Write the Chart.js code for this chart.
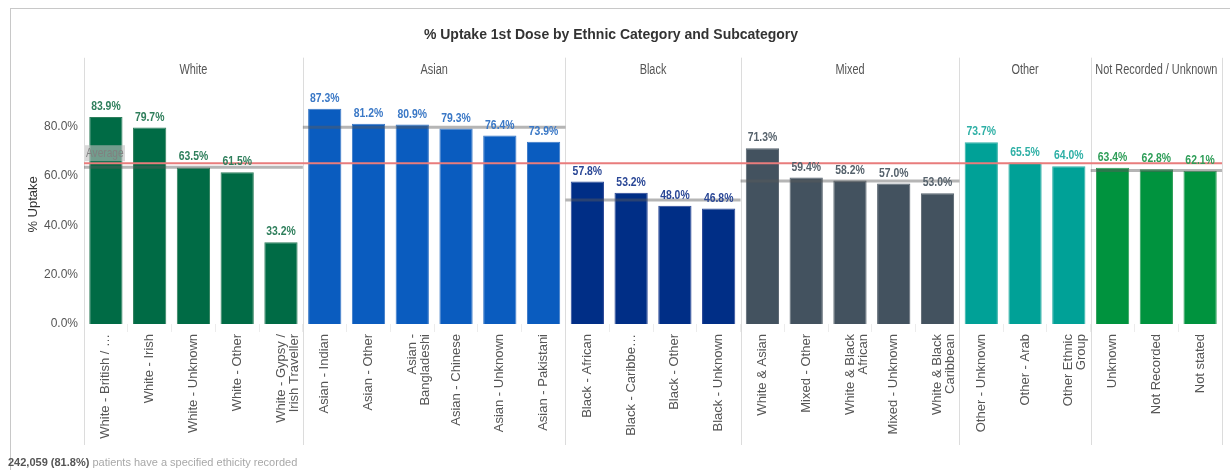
<!DOCTYPE html>
<html>
<head>
<meta charset="utf-8">
<script src="https://cdn.jsdelivr.net/npm/chart.js@4.4.1/dist/chart.umd.min.js"></script>
<style>
  html, body { margin: 0; padding: 0; background: #fff; }
  #wrap { position: relative; width: 1230px; height: 470px; overflow: hidden; }
  #frame { position: absolute; left: 10px; top: 8px; width: 1240px; height: 480px;
           border-top: 1px solid #c8c8c8; border-left: 1px solid #c8c8c8; }
  #chart { position: absolute; left: 0; top: 0; }
  #foot { position: absolute; left: 8px; top: 456px; color: #a8a8a8;
          font: 11px "Liberation Sans", Arial, sans-serif; }
  #foot b { color: #555; }
</style>
</head>
<body>
<div id="wrap">
  <div id="frame"></div>
  <canvas id="chart" width="1230" height="470"></canvas>
  <div id="foot"><b>242,059 (81.8%)</b> patients have a specified ethicity recorded</div>
</div>
<script>
const SANS = '"Liberation Sans", Arial, sans-serif';

// grupos (paneles de arriba)
const groups = ['White', 'Asian', 'Black', 'Mixed', 'Other', 'Not Recorded / Unknown'];
const groupSizes = [5, 6, 4, 5, 3, 3];
const groupAverages = [63.6, 79.8, 50.3, 58.0, null, 62.2];
const overallAverage = 65.2;

// subcategorias y % de captacion
const subcategories = [
    'White - British / …', 'White - Irish', 'White - Unknown', 'White - Other', ['White - Gypsy /', 'Irish Traveller'],
    'Asian - Indian', 'Asian - Other', ['Asian -', 'Bangladeshi'], 'Asian - Chinese', 'Asian - Unknown', 'Asian - Pakistani',
    'Black - African', 'Black - Caribbe…', 'Black - Other', 'Black - Unknown',
    'White & Asian', 'Mixed - Other', ['White & Black', 'African'], 'Mixed - Unknown', ['White & Black', 'Caribbean'],
    'Other - Unknown', 'Other - Arab', ['Other Ethnic', 'Group'],
    'Unknown', 'Not Recorded', 'Not stated'
];
const uptake = [
    83.9, 79.7, 63.5, 61.5, 33.2,
    87.3, 81.2, 80.9, 79.3, 76.4, 73.9,
    57.8, 53.2, 48.0, 46.8,
    71.3, 59.4, 58.2, 57.0, 53.0,
    73.7, 65.5, 64.0,
    63.4, 62.8, 62.1
];
const yTicks = [0, 20, 40, 60, 80];

const barColours = ['#006b45', '#0a5cbf', '#002e86', '#43525f', '#00a197', '#00933e'];
const labelColours = ['#2f7f5c', '#3a78c6', '#2a4796', '#56626c', '#2fb0a6', '#2e9e58'];

/* grupo de cada barra */
const groupOf = [];
groupSizes.forEach((n, gi) => { for (let i = 0; i < n; i++) groupOf.push(gi); });

/* texto estrechado (no hay fuente narrow instalada) */
function narrowText(ctx, text, x, y, sx) {
    ctx.save();
    ctx.translate(x, y);
    ctx.scale(sx, 1);
    ctx.fillText(text, 0, 0);
    ctx.restore();
}

const panelPlugin = {
    id: 'panels',
    beforeDatasetsDraw(chart) {
        const ctx = chart.ctx, x = chart.scales.x, area = chart.chartArea;
        const half = (x.getPixelForValue(1) - x.getPixelForValue(0)) / 2;
        let start = 0;
        ctx.save();
        groups.forEach((g, gi) => {
            const left = x.getPixelForValue(start) - half;
            const right = x.getPixelForValue(start + groupSizes[gi] - 1) + half;
            ctx.strokeStyle = '#dcdcdc';
            ctx.lineWidth = 1;
            ctx.beginPath();
            ctx.moveTo(Math.round(left) + 0.5, area.top - 27);
            ctx.lineTo(Math.round(left) + 0.5, 445);
            ctx.moveTo(Math.round(right) + 0.5, area.top - 27);
            ctx.lineTo(Math.round(right) + 0.5, 445);
            ctx.stroke();
            ctx.fillStyle = '#555';
            ctx.font = '14px ' + SANS;
            ctx.textAlign = 'center';
            ctx.textBaseline = 'middle';
            narrowText(ctx, g, (left + right) / 2, area.top - 15, 0.78);
            start += groupSizes[gi];
        });
        ctx.restore();
    },
    afterDatasetsDraw(chart) {
        const ctx = chart.ctx, x = chart.scales.x, y = chart.scales.y, area = chart.chartArea;
        const half = (x.getPixelForValue(1) - x.getPixelForValue(0)) / 2;
        ctx.save();
        /* linea media de cada grupo */
        let start = 0;
        groups.forEach((g, gi) => {
            const left = x.getPixelForValue(start) - half;
            const right = x.getPixelForValue(start + groupSizes[gi] - 1) + half;
            if (groupAverages[gi] !== null) {
                const py = y.getPixelForValue(groupAverages[gi]);
                ctx.strokeStyle = 'rgba(90,90,90,0.45)';
                ctx.lineWidth = 3;
                ctx.beginPath();
                ctx.moveTo(left, py);
                ctx.lineTo(right, py);
                ctx.stroke();
            }
            start += groupSizes[gi];
        });
        /* media general */
        const ay = y.getPixelForValue(overallAverage);
        ctx.strokeStyle = '#e87c7c';
        ctx.lineWidth = 2;
        ctx.beginPath();
        ctx.moveTo(area.left, ay);
        ctx.lineTo(area.right, ay);
        ctx.stroke();
        ctx.fillStyle = 'rgba(190,190,190,0.6)';
        ctx.fillRect(area.left + 1, ay - 18, 40, 16);
        ctx.fillStyle = '#808080';
        ctx.font = '13px ' + SANS;
        ctx.textAlign = 'left';
        ctx.textBaseline = 'middle';
        narrowText(ctx, 'Average', area.left + 2, ay - 10, 0.78);
        /* etiquetas de valor */
        const meta = chart.getDatasetMeta(0);
        ctx.font = 'bold 13px ' + SANS;
        ctx.textAlign = 'center';
        ctx.textBaseline = 'bottom';
        meta.data.forEach((bar, i) => {
            ctx.fillStyle = labelColours[groupOf[i]];
            narrowText(ctx, uptake[i].toFixed(1) + '%', bar.x, bar.y - 4, 0.8);
        });
        ctx.restore();
    }
};

const chart = new Chart(document.getElementById('chart'), {
    type: 'bar',
    data: {
        labels: subcategories,
        datasets: [{
            label: '% Uptake',
            data: uptake,
            backgroundColor: groupOf.map(g => barColours[g]),
            borderColor: groupOf.map(g => labelColours[g]),
            borderWidth: 1,
            barPercentage: 0.76,
            categoryPercentage: 1.0
        }]
    },
    options: {
        responsive: false,
        animation: false,
        layout: { padding: { left: 0, right: 8, top: 0, bottom: 0 } },
        plugins: {
            legend: { display: false },
            tooltip: { enabled: false },
            title: {
                display: true,
                text: '% Uptake 1st Dose by Ethnic Category and Subcategory',
                color: '#333',
                font: { family: SANS, size: 14, weight: 'bold' },
                padding: { top: 27, bottom: 41 }
            }
        },
        scales: {
            x: {
                afterFit: s => { s.height = 146; },
                border: { display: false },
                grid: { offset: true, drawOnChartArea: false, color: '#ececec', tickLength: 8 },
                ticks: {
                    autoSkip: false, minRotation: 90, maxRotation: 90, padding: 2,
                    color: '#555', font: { family: SANS, size: 13, lineHeight: 1.0 }
                }
            },
            y: {
                min: 0,
                max: 97,
                afterBuildTicks: s => { s.ticks = yTicks.map(v => ({ value: v })); },
                afterFit: s => { s.width = 84; },
                border: { display: false },
                grid: { display: false, drawTicks: false },
                ticks: {
                    padding: 6, color: '#555',
                    font: { family: SANS, size: 12 },
                    callback: v => v.toFixed(1) + '%'
                },
                title: {
                    display: true, text: '% Uptake', color: '#333',
                    font: { family: SANS, size: 13 },
                    padding: { top: 26, bottom: 0 }
                }
            }
        }
    },
    plugins: [panelPlugin]
});
</script>
</body>
</html>
